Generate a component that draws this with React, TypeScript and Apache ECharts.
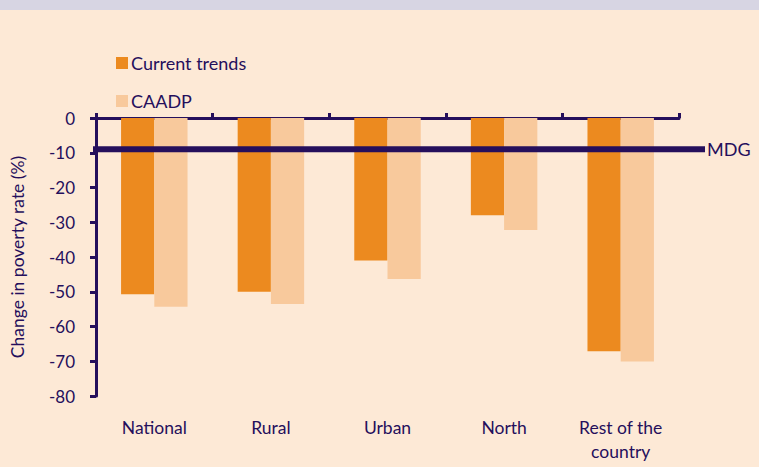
import React, { useEffect, useRef } from "react";
import * as echarts from "echarts";

const categories = ["National", "Rural", "Urban", "North", "Rest of the\ncountry"];
const currentTrends = [-50.7, -50.0, -41.0, -28.0, -67.1];
const caadp = [-54.3, -53.5, -46.3, -32.2, -70.1];
const mdgLine = [[0, -9], [1, -9]];
const yTicks = { min: -80, max: 0, interval: 10 };

const INK = "#250f5c";
const FONT = "Lato, 'Open Sans', sans-serif";

export default function App() {
  const ref = useRef<HTMLDivElement>(null);
  useEffect(() => {
    document.body.style.margin = "0";
    const chart = echarts.init(ref.current!, null, { renderer: "svg" });
    chart.setOption({
      animation: false,
      backgroundColor: "#fde9d6",
      textStyle: { fontFamily: FONT, color: INK },
      graphic: [
        { type: "rect", left: 0, top: 0, shape: { width: 759, height: 10 }, style: { fill: "#d7d5e3" }, silent: true },
      ],
      legend: {
        data: ["Current trends", "CAADP"],
        orient: "vertical",
        left: 116,
        top: 54,
        padding: 0,
        itemWidth: 12,
        itemHeight: 12,
        itemGap: 20,
        icon: "rect",
        textStyle: { fontFamily: FONT, color: INK, fontSize: 18, padding: [0, 0, 0, -2] },
      },
      grid: [
        { left: 96, top: 118, right: 80, bottom: 71, outerBoundsMode: "none", containLabel: false },
        { left: 93, top: 118, right: 54, bottom: 71, outerBoundsMode: "none", containLabel: false },
      ],
      xAxis: [
        {
          type: "category",
          data: categories,
          gridIndex: 0,
          position: "top",
          axisLine: { show: true, lineStyle: { color: INK, width: 3 } },
          axisTick: { show: true, length: 5, lineStyle: { color: INK, width: 3 } },
          axisLabel: { show: false },
          splitLine: { show: false },
        },
        {
          type: "category",
          data: categories,
          gridIndex: 0,
          position: "bottom",
          axisLine: { show: false },
          axisTick: { show: false },
          axisLabel: { color: INK, fontSize: 17.5, fontFamily: FONT, margin: 19, lineHeight: 24 },
        },
        { type: "value", gridIndex: 1, min: 0, max: 1, show: false },
      ],
      yAxis: [
        {
          type: "value",
          gridIndex: 0,
          min: yTicks.min,
          max: yTicks.max,
          interval: yTicks.interval,
          name: "Change in poverty rate (%)",
          nameLocation: "middle",
          nameGap: 70,
          nameTextStyle: { color: INK, fontSize: 17.5, fontFamily: FONT },
          axisLine: { show: true, lineStyle: { color: INK, width: 3 } },
          axisTick: { show: true, length: 6, lineStyle: { color: INK, width: 3 } },
          axisLabel: { color: INK, fontSize: 17, fontFamily: FONT, margin: 21 },
          splitLine: { show: false },
        },
        { type: "value", gridIndex: 1, min: yTicks.min, max: yTicks.max, show: false },
      ],
      series: [
        {
          name: "Current trends",
          type: "bar",
          xAxisIndex: 0,
          yAxisIndex: 0,
          data: currentTrends,
          barGap: "0%",
          barCategoryGap: "43%",
          itemStyle: { color: "#ec8a1f" },
        },
        {
          name: "CAADP",
          type: "bar",
          xAxisIndex: 0,
          yAxisIndex: 0,
          data: caadp,
          itemStyle: { color: "#f8c99c" },
        },
        {
          name: "MDG",
          type: "line",
          xAxisIndex: 2,
          yAxisIndex: 1,
          data: mdgLine,
          symbol: "none",
          lineStyle: { color: INK, width: 6 },
          endLabel: { show: true, formatter: "MDG", color: INK, fontSize: 18, fontFamily: FONT, distance: 2 },
        },
      ],
    });
    return () => chart.dispose();
  }, []);
  return <div ref={ref} style={{ width: 759, height: 467 }} />;
}
